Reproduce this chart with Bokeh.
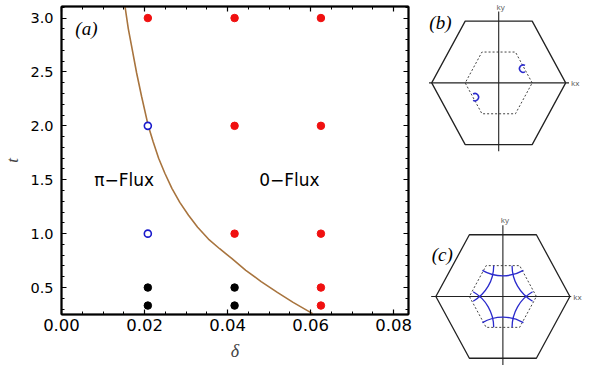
from bokeh.plotting import figure
from bokeh.layouts import row, column
from bokeh.models import FixedTicker, LinearAxis, Range1d
from bokeh.core.properties import value
from bokeh.embed import file_html
from bokeh.resources import INLINE

# ---------------- data: panel (a) ----------------
red_delta = [0.0208, 0.0417, 0.0625, 0.0417, 0.0625, 0.0417, 0.0625, 0.0625, 0.0625]
red_t = [3.0, 3.0, 3.0, 2.0, 2.0, 1.0, 1.0, 0.5, 0.333]
blue_delta = [0.0208, 0.0208]
blue_t = [2.0, 1.0]
black_delta = [0.0208, 0.0208, 0.0417, 0.0417]
black_t = [0.5, 0.333, 0.5, 0.333]

curve_delta = [0.0153, 0.0161, 0.0170, 0.0181, 0.0193, 0.0209, 0.0221, 0.0234, 0.0249,
               0.0266, 0.0285, 0.0306, 0.0328, 0.0354, 0.0381, 0.0410, 0.0444,
               0.0481, 0.0520, 0.0558, 0.0605]
curve_t = [3.107, 2.900, 2.716, 2.490, 2.272, 2.000, 1.850, 1.700, 1.560,
           1.420, 1.290, 1.170, 1.060, 0.950, 0.860, 0.770, 0.660,
           0.555, 0.455, 0.362, 0.258]

x_ticks = [0.0, 0.02, 0.04, 0.06, 0.08]
x_tick_labels = ["0.00", "0.02", "0.04", "0.06", "0.08"]
x_minor = [0.005, 0.01, 0.015, 0.025, 0.03, 0.035, 0.045, 0.05, 0.055, 0.065, 0.07, 0.075]
y_ticks = [0.5, 1.0, 1.5, 2.0, 2.5, 3.0]
y_tick_labels = ["0.5", "1.0", "1.5", "2.0", "2.5", "3.0"]
y_minor = [0.3, 0.4, 0.6, 0.7, 0.8, 0.9, 1.1, 1.2, 1.3, 1.4, 1.6, 1.7, 1.8, 1.9,
           2.1, 2.2, 2.3, 2.4, 2.6, 2.7, 2.8, 2.9, 3.1]

region_labels = ["\u03c0\u2212Flux", "0\u2212Flux"]
region_delta = [0.0151, 0.0549]
region_t = [1.5, 1.5]

# ---------------- data: panels (b), (c) ----------------
hex_x = [1.0, 0.5, -0.5, -1.0, -0.5, 0.5, 1.0]
hex_y = [0.0, 0.866, 0.866, 0.0, -0.866, -0.866, 0.0]
inner_x = [0.5, 0.25, -0.25, -0.5, -0.25, 0.25, 0.5]
inner_y = [0.0, 0.433, 0.433, 0.0, -0.433, -0.433, 0.0]
kx_line_b = [-1.04, 1.05]
kx_line_c = [-1.07, 1.02]
ky_line = [-0.96, 1.0]

# (b) small Fermi pockets
pocket_x = [0.365, -0.355]
pocket_y = [0.20, -0.20]
pocket_r = [0.055, 0.055]
pocket_start = [60, 240]
pocket_end = [300, 120]

# (c) Fermi surface arcs
arc_cx = [0.0, 0.75, 0.75, 0.0, -0.75, -0.75]
arc_cy = [0.866, 0.433, -0.433, -0.866, -0.433, 0.433]
arc_r = [0.613] * 6
arc_start = [240, 180, 120, 60, 0, 300]
arc_end = [300, 240, 180, 120, 60, 360]

SANS = "DejaVu Sans"
SERIF = "Liberation Serif"

# ---------------- main figure ----------------
p = figure(frame_width=347, frame_height=308,
           x_range=Range1d(0, 0.0836), y_range=Range1d(0.25, 3.107),
           output_backend="svg", toolbar_location=None,
           min_border_left=59, min_border_right=6, min_border_top=6, min_border_bottom=52)
p.grid.visible = False
p.outline_line_color = "black"
p.outline_line_width = 1.5
p.background_fill_color = "white"

def style_axis(ax, ticks, minor, labels, show_labels, size="15px"):
    ax.ticker = FixedTicker(ticks=ticks, minor_ticks=minor)
    ax.axis_line_color = "black"
    ax.axis_line_width = 2
    ax.major_tick_in = 5
    ax.major_tick_out = 0
    ax.minor_tick_in = 3
    ax.minor_tick_out = 0
    ax.major_tick_line_width = 1.2
    ax.minor_tick_line_width = 1
    if show_labels:
        ax.major_label_overrides = {t: l for t, l in zip(ticks, labels)}
        ax.major_label_text_font = SANS
        ax.major_label_text_font_size = size
        ax.major_label_text_color = "black"
    else:
        ax.major_label_overrides = {t: "" for t in ticks}
        ax.major_label_text_font_size = "1px"
        ax.major_label_standoff = 0

xa = p.xaxis[0]
style_axis(xa, x_ticks, x_minor, x_tick_labels, True, "16.5px")
xa.major_label_standoff = 4
xa.axis_label = "\u03b4"
xa.axis_label_text_font = SERIF
xa.axis_label_text_font_style = "italic"
xa.axis_label_text_font_size = "18px"
xa.axis_label_standoff = 7

ya = p.yaxis[0]
style_axis(ya, y_ticks, y_minor, y_tick_labels, True, "14.5px")
ya.major_label_standoff = 8
ya.axis_label = "t"
ya.axis_label_text_font = SERIF
ya.axis_label_text_font_style = "italic"
ya.axis_label_text_font_size = "17px"
ya.axis_label_standoff = 5

top_ax = LinearAxis()
style_axis(top_ax, x_ticks, x_minor, x_tick_labels, False)
p.add_layout(top_ax, "above")
right_ax = LinearAxis()
style_axis(right_ax, y_ticks, y_minor, y_tick_labels, False)
p.add_layout(right_ax, "right")

p.line(curve_delta, curve_t, line_color="#a8743e", line_width=1.6)
p.scatter(red_delta, red_t, size=7.5, fill_color="#f01010", line_color="#f01010")
p.scatter(black_delta, black_t, size=7.5, fill_color="black", line_color="black")
p.scatter(blue_delta, blue_t, size=7, fill_color="white", line_color="#1a1acc", line_width=1.6)

p.text(region_delta, region_t, text=region_labels, text_font=value(SANS), text_font_size="17px",
       text_align="center", text_baseline="middle", text_color="black")
p.text([0.006], [2.902], text=["(a)"], text_font=value(SERIF), text_font_style="italic",
       text_font_size="19px", text_align="center", text_baseline="middle")

# ---------------- BZ panels ----------------
def bz_panel(xr, yr, tag, tag_xy, kx_line):
    f = figure(width=170, height=183, x_range=Range1d(*xr), y_range=Range1d(*yr),
               output_backend="svg", toolbar_location=None,
               min_border=0, min_border_left=0, min_border_right=0,
               min_border_top=0, min_border_bottom=0)
    f.axis.visible = False
    f.grid.visible = False
    f.outline_line_color = None
    f.line(hex_x, hex_y, line_color="#222222", line_width=1.3)
    f.line(inner_x, inner_y, line_color="#444444", line_width=1, line_dash="2 2")
    f.line(kx_line, [0, 0], line_color="#222222", line_width=1.1)
    f.line([0, 0], ky_line, line_color="#222222", line_width=1.1)
    f.text([kx_line[1]], [0], text=["kx"], text_font=value("Open Sans"), text_font_size="8px",
           text_color="#555555", text_align="left", text_baseline="middle", x_offset=2)
    f.text([0], [ky_line[1]], text=["ky"], text_font=value("Open Sans"), text_font_size="8px",
           text_color="#555555", text_align="center", text_baseline="bottom", x_offset=2, y_offset=0)
    f.text([tag_xy[0]], [tag_xy[1]], text=[tag], text_font=value(SERIF), text_font_style="italic",
           text_font_size="19px", text_align="center", text_baseline="middle")
    return f

pb = bz_panel((-1.257, 1.281), (-1.411, 1.156), "(b)", (-0.87, 0.847), kx_line_b)
pb.arc(pocket_x, pocket_y, radius=pocket_r, start_angle=pocket_start, end_angle=pocket_end,
       start_angle_units="deg", end_angle_units="deg", line_color="#2a2acc", line_width=1.5)

pc = bz_panel((-1.319, 1.218), (-0.982, 1.585), "(c)", (-0.905, 0.59), kx_line_c)
pc.arc(arc_cx, arc_cy, radius=arc_r, start_angle=arc_start, end_angle=arc_end,
       start_angle_units="deg", end_angle_units="deg", line_color="#2a2acc", line_width=1.3)

layout = row(p, column(pb, pc, spacing=0), spacing=0)

open("out.html", "w").write(file_html(layout, INLINE))
